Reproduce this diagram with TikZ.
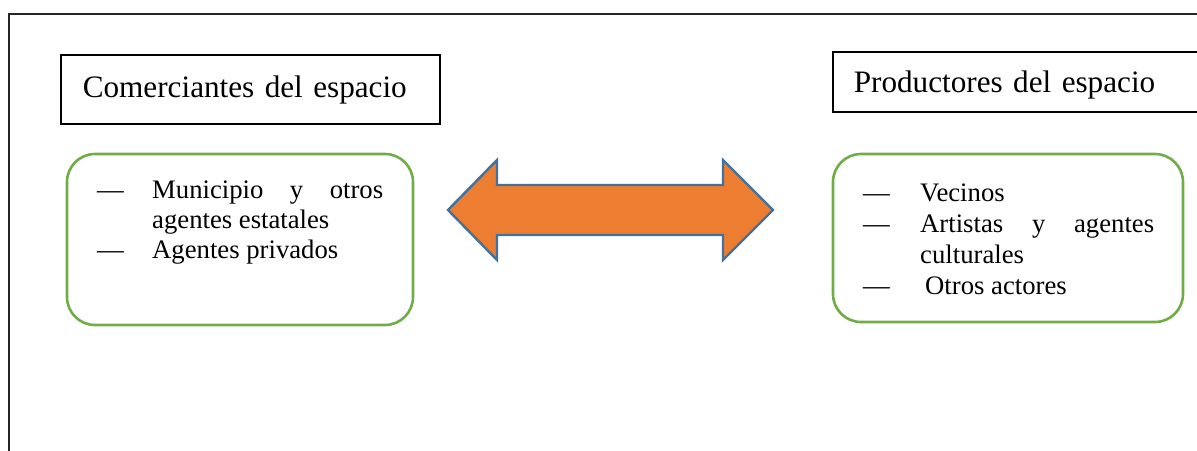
\documentclass[tikz,border=0pt]{standalone}
\usepackage{fontspec}
\setmainfont{Liberation Serif}
\definecolor{boxgreen}{HTML}{70AD47}
\definecolor{arroworange}{HTML}{ED7D31}
\definecolor{arrowblue}{HTML}{41719C}
% one list line: a fixed-width column for the dash, then the entry text
\newcommand{\listentry}[3]{\hbox{\hbox to #1{#2\hfil}#3}}
\tikzset{
  titlebox/.style={draw=black, line width=1.6pt, inner ysep=0pt, align=left,
    anchor=base west, font=\fontsize{31.2}{37}\selectfont},
  groupbox/.style={draw=boxgreen, line width=2.6pt, rounded corners=28pt, inner sep=0pt},
  listtext/.style={anchor=base west, inner sep=0pt},
  linkarrow/.style={fill=arroworange, draw=arrowblue, line width=2.4pt, line join=miter}
}
\begin{document}
\begin{tikzpicture}[x=1pt,y=-1pt]
\useasboundingbox (0,0) rectangle (1197,450);
\clip (0,0) rectangle (1197,450);
\fill[white] (0,0) rectangle (1197,450);

% outer frame (runs past the right and bottom edges)
\draw[line width=1.8pt, black!85] (9,14) rectangle (1215,470);

% group titles
\node[titlebox, inner xsep=22pt, text width=335pt, text height=42pt, text depth=27pt]
  (comtitle) at (60,97) {Comerciantes del espacio};
\node[titlebox, inner xsep=21pt, text width=340pt, text height=40pt, text depth=20pt]
  (protitle) at (832,92) {Productores del espacio};

% member boxes
\node[groupbox, minimum width=346pt, minimum height=171pt] (combox) at (240,239.5) {};
\node[groupbox, minimum width=350pt, minimum height=168pt] (probox) at (1008,238) {};

\node[listtext] (comlist) at (97,198) {\vtop{\fontsize{26.7}{30}\selectfont
  \listentry{55pt}{—}{\hbox to 231pt{Municipio\hfill y\hfill otros}}
  \listentry{55pt}{}{agentes estatales}
  \listentry{55pt}{—}{Agentes privados}}};

\node[listtext] (prolist) at (863,201) {\vtop{\fontsize{26.7}{31}\selectfont
  \listentry{57pt}{—}{Vecinos}
  \listentry{57pt}{—}{\hbox to 234pt{Artistas\hfill y\hfill agentes}}
  \listentry{57pt}{}{culturales}
  \listentry{57pt}{—}{\hspace{5pt}Otros actores}}};

% two-way arrow between the groups
\draw[linkarrow] (448,210) -- (497,160) -- (497,185) -- (723,185) -- (723,160)
  -- (773,210) -- (723,260) -- (723,235) -- (497,235) -- (497,260) -- cycle;
\end{tikzpicture}
\end{document}
